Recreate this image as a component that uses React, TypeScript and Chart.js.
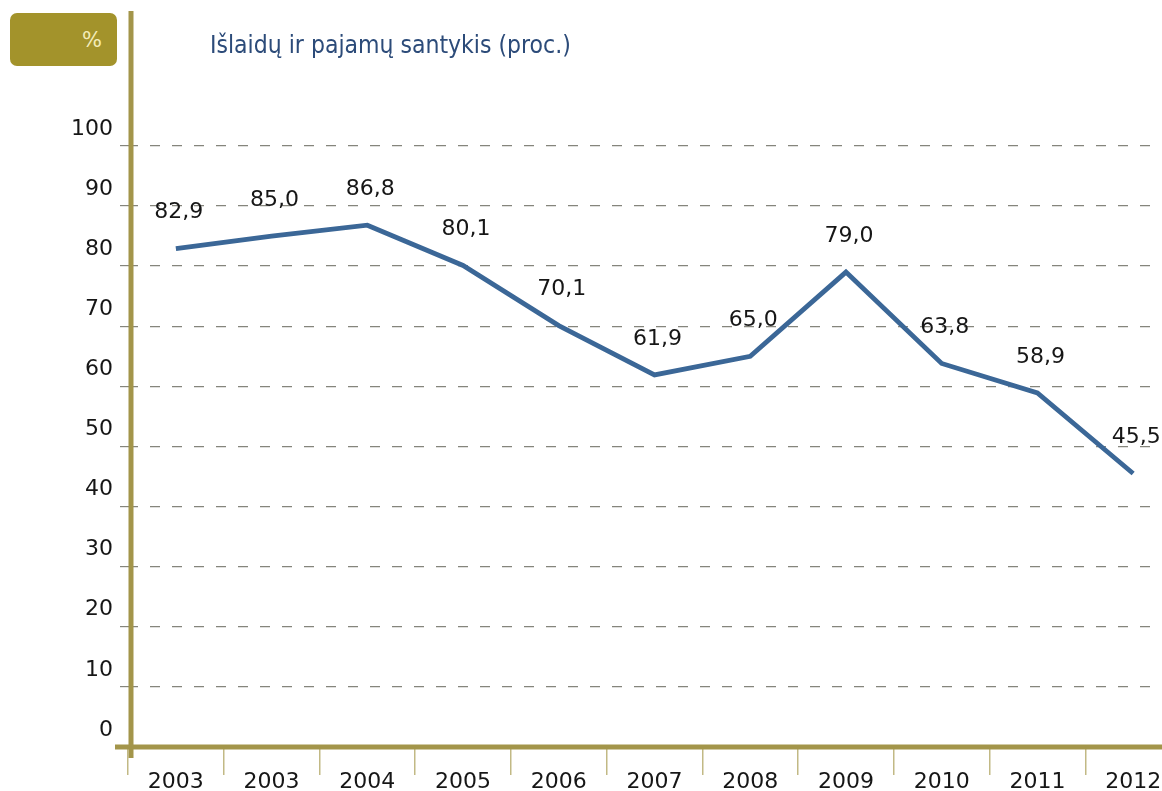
import React, { useEffect, useRef } from "react";
import { Chart, registerables } from "chart.js";

Chart.register(...registerables);

const categories: string[] = ["2003", "2003", "2004", "2005", "2006", "2007", "2008", "2009", "2010", "2011", "2012"];
const ratioValues: number[] = [82.9, 85.0, 86.8, 80.1, 70.1, 61.9, 65.0, 79.0, 63.8, 58.9, 45.5];
const yTickStep = 10;
const yTickMax = 100;
const titleText = "Išlaidų ir pajamų santykis (proc.)";
const unitText = "%";

const AXIS_COLOR = "#a3954a";
const FONT = "'DejaVu Sans', Verdana, sans-serif";

const CANVAS_W = 1190;
const CANVAS_H = 791;

const axesPlugin = {
  id: "customAxes",
  beforeDatasetsDraw(chart: any) {
    const { ctx, chartArea } = chart;
    ctx.save();
    ctx.strokeStyle = AXIS_COLOR;
    ctx.lineWidth = 5;
    ctx.setLineDash([]);
    ctx.beginPath();
    ctx.moveTo(chartArea.left - 13, chartArea.bottom);
    ctx.lineTo(chart.width, chartArea.bottom);
    ctx.stroke();
    ctx.beginPath();
    ctx.moveTo(chartArea.left + 3, 11);
    ctx.lineTo(chartArea.left + 3, chartArea.bottom + 11);
    ctx.stroke();
    ctx.restore();
  },
};

const labelsPlugin = {
  id: "pointLabels",
  afterDatasetsDraw(chart: any) {
    const { ctx } = chart;
    const meta = chart.getDatasetMeta(0);
    const data = chart.data.datasets[0].data as number[];
    ctx.save();
    ctx.font = `22px ${FONT}`;
    ctx.fillStyle = "#161616";
    ctx.textAlign = "center";
    ctx.textBaseline = "middle";
    meta.data.forEach((pt: any, i: number) => {
      const txt = data[i].toFixed(1).replace(".", ",");
      ctx.fillText(txt, pt.x + 3, pt.y - 36);
    });
    ctx.restore();
  },
};

export default function App() {
  const canvasRef = useRef<HTMLCanvasElement | null>(null);

  useEffect(() => {
    document.body.style.margin = "0";
    const canvas = canvasRef.current;
    if (!canvas) return;
    const chart = new Chart(canvas, {
      type: "line",
      data: {
        labels: categories,
        datasets: [
          {
            data: ratioValues,
            borderColor: "#3b6797",
            borderWidth: 4.8,
            pointRadius: 0,
            pointHoverRadius: 0,
            tension: 0,
            fill: false,
          },
        ],
      },
      options: {
        animation: false,
        responsive: false,
        maintainAspectRatio: false,
        layout: { padding: { top: 3, right: CANVAS_W - 1181, left: 0, bottom: 0 } },
        plugins: {
          legend: { display: false },
          tooltip: { enabled: false },
          title: { display: false },
        },
        scales: {
          x: {
            type: "category",
            offset: true,
            grid: {
              offset: true,
              drawOnChartArea: false,
              drawTicks: true,
              tickLength: 28,
              color: "#c2b985",
              lineWidth: 1.5,
            },
            border: { display: false },
            ticks: {
              color: "#161616",
              font: { family: FONT, size: 22 },
              padding: -6,
              maxRotation: 0,
              autoSkip: false,
            },
            afterFit(scale: any) {
              scale.height = CANVAS_H - 747;
            },
          },
          y: {
            min: 0,
            max: 120.9,
            afterBuildTicks(scale: any) {
              scale.ticks = scale.ticks.filter((t: any) => t.value <= yTickMax);
            },
            ticks: {
              stepSize: yTickStep,
              color: "#161616",
              font: { family: FONT, size: 22 },
              padding: 7,
              labelOffset: -17,
              callback: (v: any) => String(v),
            },
            grid: {
              color: "#85857c",
              lineWidth: 1.2,
              tickLength: 8,
              tickBorderDash: [10, 12],
            },
            border: { display: false, dash: [10, 12] },
            afterFit(scale: any) {
              scale.width = 128;
            },
          },
        },
      } as any,
      plugins: [axesPlugin, labelsPlugin],
    });
    return () => chart.destroy();
  }, []);

  return (
    <div
      style={{
        position: "fixed",
        left: 0,
        top: 0,
        width: 1162,
        height: 791,
        overflow: "hidden",
        background: "#ffffff",
      }}
    >
      <canvas
        ref={canvasRef}
        width={CANVAS_W}
        height={CANVAS_H}
        style={{ position: "absolute", left: 0, top: 0, width: CANVAS_W, height: CANVAS_H }}
      />
      <div
        style={{
          position: "absolute",
          left: 10,
          top: 13,
          width: 107,
          height: 53,
          borderRadius: 7,
          background: "#a3932b",
          color: "#f4ecb8",
          fontFamily: FONT,
          fontSize: 21,
          display: "flex",
          alignItems: "center",
          justifyContent: "flex-end",
          paddingRight: 15,
          boxSizing: "border-box",
        }}
      >
        {unitText}
      </div>
      <div
        style={{
          position: "absolute",
          left: 210,
          top: 33,
          fontFamily: "'DejaVu Sans Condensed', 'DejaVu Sans', sans-serif",
          fontStretch: "condensed",
          fontSize: 24.5,
          lineHeight: 1,
          color: "#2c4b79",
          whiteSpace: "nowrap",
        }}
      >
        {titleText}
      </div>
    </div>
  );
}
